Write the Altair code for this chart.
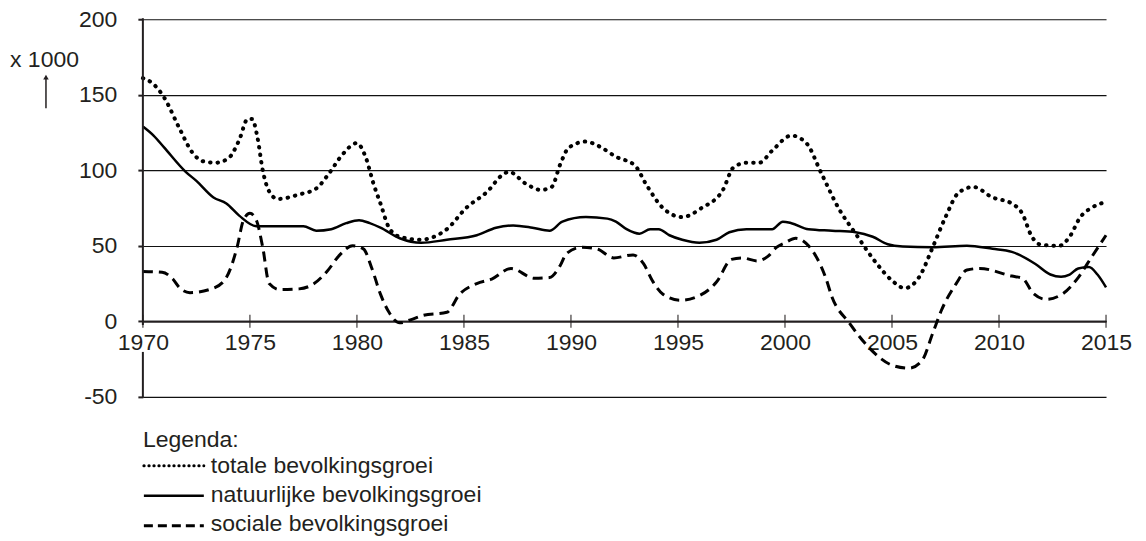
import altair as alt
import pandas as pd

# ---- data, values x 1000 ----
tot_x = [1970, 1970.5, 1971, 1971.7, 1972.3, 1972.8, 1973.4, 1974.0, 1974.5, 1974.9, 1975.1,
         1975.35, 1975.6, 1975.9, 1976.3, 1977.3, 1978.1, 1978.7, 1979.3, 1980.0, 1980.4,
         1980.8, 1981.1, 1981.5, 1982.0, 1983.0, 1983.6, 1984.2, 1985.1, 1986.1, 1986.8,
         1987.1, 1987.9, 1988.6, 1989.1, 1989.5, 1989.9, 1990.7, 1991.3, 1992.1, 1993.0,
         1993.5, 1994.3, 1995.2, 1996.1, 1997.1, 1997.6, 1998.2, 1998.8, 1999.4, 2000.3,
         2001.0, 2001.7, 2002.5, 2003.3, 2004.3, 2005.0, 2005.6, 2006.3, 2006.9, 2007.5,
         2008.1, 2008.8, 2009.7, 2010.6, 2011.1, 2011.5, 2011.9, 2012.8, 2013.3, 2013.8,
         2014.3, 2015.0]
tot_y = [161, 157, 148, 128, 112, 106, 105, 108, 120, 134, 134,
         122, 100, 86, 81, 84, 88, 98, 110, 118, 109,
         90, 78, 62, 56, 54, 56, 61, 75, 86, 97,
         99, 91, 87, 89, 104, 115, 119, 116, 109, 103,
         91, 75, 69, 75, 87, 102, 105, 105, 113, 123,
         118, 98, 75, 58, 38, 27, 22, 30, 49, 69,
         85, 89, 82, 78, 71, 57, 51, 50, 56, 69,
         75, 79]

nat_x = [1970, 1970.5, 1971, 1972, 1972.5, 1973.3, 1973.9, 1974.5, 1975.3, 1976.9, 1977.5,
         1978.1, 1978.8, 1979.5, 1980.1, 1980.6, 1981.1, 1982.0, 1983.0, 1984.2, 1985.6,
         1986.5, 1987.3, 1988.2, 1989.0, 1989.6, 1990.7, 1991.7, 1992.1, 1992.6, 1993.2,
         1993.7, 1994.1, 1994.6, 1995.2, 1996.0, 1996.8, 1997.4, 1998.2, 1999.4, 1999.9,
         2000.3, 2001.1, 2002.2, 2003.3, 2004.1, 2004.8, 2005.5, 2006.9, 2008.5, 2009.7,
         2010.6, 2011.7, 2012.4, 2012.9, 2013.3, 2013.7, 2014.2, 2014.6, 2015.0]
nat_y = [129, 123, 115, 99, 93, 82, 78, 70, 63, 63, 63,
         60, 61, 65, 67, 65, 62, 55, 52, 54, 57,
         62, 63.5, 62, 60, 66, 69, 68, 66, 61, 58,
         61, 61, 57, 54, 52, 54, 59, 61, 61, 66,
         65, 61, 60, 59, 56, 51, 49.5, 49, 50, 48,
         46, 38, 31, 29.5, 31, 35, 36, 31, 22.5]

soc_x = [1970, 1970.9, 1971.4, 1971.7, 1972.2, 1973.3, 1973.9, 1974.4, 1974.7, 1975.0, 1975.3,
         1975.6, 1975.9, 1976.4, 1977.3, 1978.0, 1978.6, 1979.2, 1979.8, 1980.3, 1980.7,
         1981.1, 1981.5, 1982.0, 1982.5, 1983.1, 1984.2, 1984.8, 1985.6, 1986.3, 1987.2,
         1988.3, 1989.0, 1989.5, 1989.8, 1990.5, 1991.2, 1992.0, 1992.9, 1993.4, 1993.8,
         1994.3, 1995.1, 1996.0, 1996.8, 1997.5, 1998.0, 1998.7, 1999.2, 1999.6, 2000.0,
         2000.5, 2001.1, 2001.9, 2002.2, 2003.0, 2003.9, 2005.0, 2005.8, 2006.4, 2006.9,
         2007.3, 2008.0, 2008.5, 2009.1, 2010.6, 2011.1, 2011.6, 2012.2, 2013.0, 2013.7,
         2014.3, 2015.0]
soc_y = [33, 32.5, 28, 22.5, 19, 22, 29, 49, 67, 71.5, 67,
         49, 25, 21, 21.5, 25, 33, 44, 50, 48, 35,
         18, 6, -1, 1, 4, 6, 18, 25, 28, 35,
         28.5, 29, 37, 45, 49, 48, 42, 44, 38, 27,
         18, 14, 17, 26, 41, 42, 40, 43, 49, 52,
         55, 50, 29, 16, -1, -17, -29, -31, -26, -8,
         7, 25, 34, 35, 30, 28.5, 18.5, 14.6, 18.5, 29,
         42, 57]

series_names = ["totale bevolkingsgroei", "natuurlijke bevolkingsgroei",
                "sociale bevolkingsgroei"]
x_ticks = [1970, 1975, 1980, 1985, 1990, 1995, 2000, 2005, 2010, 2015]
y_ticks = [-50, 0, 50, 100, 150, 200]
unit_label = "x 1000"
legend_title = "Legenda:"

# ---- style ----
FONT = "Liberation Sans"
INK = "#231f20"
W, H = 964, 378
AX_FS = 23
LG_FS = 23

x_scale = alt.Scale(domain=[1970, 2015], nice=False, zero=False)
y_scale = alt.Scale(domain=[-50, 200], nice=False, zero=False)

x_off = H * (0 - (-50)) / 250.0  # x axis sits at y = 0

df_tot = pd.DataFrame({"jaar": tot_x, "waarde": tot_y})
df_nat = pd.DataFrame({"jaar": nat_x, "waarde": nat_y})
df_soc = pd.DataFrame({"jaar": soc_x, "waarde": soc_y})

X = alt.X("jaar:Q", scale=x_scale,
          axis=alt.Axis(values=x_ticks, format="d", title=None, grid=False,
                        offset=-x_off, domain=True, domainColor=INK, domainWidth=2,
                        ticks=False, tickSize=0, labelPadding=10, labelFlush=False,
                        labelFont=FONT, labelFontSize=AX_FS, labelColor=INK,
                        labelOverlap=False))
Y = alt.Y("waarde:Q", scale=y_scale,
          axis=alt.Axis(values=y_ticks, title=None, grid=True, gridColor="#111",
                        gridWidth=1.2, domain=False,
                        ticks=True, tickSize=5, tickWidth=2, tickColor=INK,
                        labelPadding=21, labelFont=FONT, labelFontSize=AX_FS,
                        labelColor=INK, labelExpr="'' + datum.value"))

line_tot = alt.Chart(df_tot).mark_line(
    interpolate="monotone", color="black", strokeWidth=4,
    strokeDash=[0.5, 7], strokeCap="round").encode(x=X, y=Y)
line_nat = alt.Chart(df_nat).mark_line(
    interpolate="monotone", color="black", strokeWidth=2.5).encode(x=X, y=Y)
line_soc = alt.Chart(df_soc).mark_line(
    interpolate="monotone", color="black", strokeWidth=3,
    strokeDash=[10, 6]).encode(x=X, y=Y)

# crossing tick marks on the x axis at y = 0
tick_df = pd.DataFrame({"jaar": x_ticks, "waarde": [0] * len(x_ticks)})
xticks = alt.Chart(tick_df).mark_tick(
    orient="vertical", color=INK, size=13, thickness=1.5).encode(
    x=alt.X("jaar:Q", scale=x_scale), y=alt.Y("waarde:Q", scale=y_scale))

one = pd.DataFrame({"k": [0]})

# vertical axis line, interrupted behind the "1970" label
yline_top = alt.Chart(one).mark_rule(color=INK, strokeWidth=2).encode(
    x=alt.value(0), y=alt.value(-1), y2=alt.value(306))
yline_bot = alt.Chart(one).mark_rule(color=INK, strokeWidth=2).encode(
    x=alt.value(0), y=alt.value(333), y2=alt.value(379))

unit_txt = alt.Chart(one).mark_text(
    text=unit_label, font=FONT, fontSize=AX_FS, color=INK, align="left",
    baseline="alphabetic").encode(x=alt.value(-133), y=alt.value(48))
arrow_rule = alt.Chart(one).mark_rule(color=INK, strokeWidth=1.5).encode(
    x=alt.value(-97), y=alt.value(58), y2=alt.value(89))
arrow_head = alt.Chart(one).mark_point(
    shape="triangle-up", filled=True, color=INK, size=30, opacity=1).encode(
    x=alt.value(-97), y=alt.value(58))

legend_layers = [
    alt.Chart(one).mark_text(
        text=legend_title, font=FONT, fontSize=LG_FS, color=INK, align="left",
        baseline="alphabetic").encode(x=alt.value(0), y=alt.value(428))
]
row_text_y = [454, 483, 512]
row_sym_y = [447, 477, 507]
dashes = [[0.3, 4.7], None, [9, 5]]
widths = [3, 2.5, 3]
caps = ["round", "butt", "butt"]
for i, name in enumerate(series_names):
    kw = dict(color="black", strokeWidth=widths[i], strokeCap=caps[i])
    if dashes[i] is not None:
        kw["strokeDash"] = dashes[i]
    legend_layers.append(
        alt.Chart(one).mark_rule(**kw).encode(
            x=alt.value(1), x2=alt.value(61), y=alt.value(row_sym_y[i])))
    legend_layers.append(
        alt.Chart(one).mark_text(
            text=name, font=FONT, fontSize=LG_FS, color=INK, align="left",
            baseline="alphabetic").encode(x=alt.value(68), y=alt.value(row_text_y[i])))

chart = alt.layer(
    line_nat, line_soc, line_tot, xticks, yline_top, yline_bot,
    unit_txt, arrow_rule, arrow_head, *legend_layers
).properties(
    width=W, height=H,
    padding={"left": 135, "top": 11, "right": 32, "bottom": 142},
    autosize=alt.AutoSizeParams(type="none"),
    background="white"
).configure_view(stroke=None)

chart.save("out.html", embed_options={"renderer": "svg", "actions": False})
